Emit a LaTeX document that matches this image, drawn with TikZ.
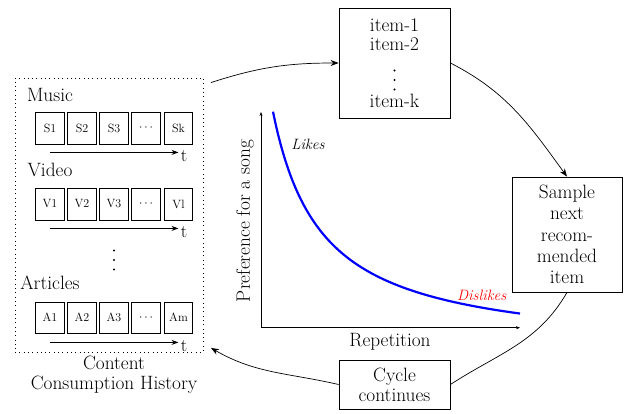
\documentclass[tikz,border=0pt]{standalone}
\usetikzlibrary{arrows.meta}
\begin{document}
\begin{tikzpicture}[x=1pt,y=-1pt,
  lbl/.style={font=\fontsize{19.3}{20}\selectfont},
  cell/.style={draw, line width=0.8pt, minimum width=28.5pt, minimum height=32pt, inner sep=0pt, font=\fontsize{12}{14}\selectfont},
  tarrow/.style={-{Stealth[length=7pt,width=5pt]}, line width=0.8pt},
  tlabel/.style={anchor=west, inner sep=2pt, yshift=-3.5pt, font=\fontsize{18}{18}\selectfont},
  flowbox/.style={draw, line width=0.8pt, align=center, inner sep=0pt, font=\fontsize{19.3}{19}\selectfont},
  conn/.style={line width=0.7pt},
  connarrow/.style={line width=0.7pt, -{Stealth[length=8pt,width=6pt]}},
  axis/.style={line width=0.5pt, -{Stealth[length=4pt,width=3pt]}},
  curvelbl/.style={font=\itshape\fontsize{15}{17}\selectfont},
  dotmark/.style={circle, fill, inner sep=0pt, minimum size=2.2pt}
]
\useasboundingbox (0,0) rectangle (626,413);

% history panel
\node[draw, dash pattern=on 0.8pt off 3.5pt, line width=0.8pt, minimum width=188pt, minimum height=274pt, inner sep=0pt] (hist) at (109,215) {};

\node[lbl] (music) at (50,95) {Music};
\foreach \i/\x/\t in {1/50/S1, 2/82/S2, 3/114/S3, 4/146/{$\cdots$}, 5/178.5/Sk}
  \node[cell] (s\i) at (\x,128) {\t};
\draw[tarrow] ([yshift=-8pt]s1.south) -- ([yshift=-8pt]s5.south) node[tlabel] (ts) {t};

\node[lbl] (video) at (50,170) {Video};
\foreach \i/\x/\t in {1/50/V1, 2/82/V2, 3/114/V3, 4/146/{$\cdots$}, 5/178.5/Vl}
  \node[cell] (v\i) at (\x,204) {\t};
\draw[tarrow] ([yshift=-8pt]v1.south) -- ([yshift=-8pt]v5.south) node[tlabel] (tv) {t};

\foreach \k/\y in {1/250.5, 2/260, 3/269.5}
  \node[dotmark] (hd\k) at (114,\y) {};

\node[lbl] (articles) at (50,283) {Articles};
\foreach \i/\x/\t in {1/50/A1, 2/82/A2, 3/114/A3, 4/146/{$\cdots$}, 5/178.5/Am}
  \node[cell, minimum height=31pt] (a\i) at (\x,317.5) {\t};
\draw[tarrow] ([yshift=-9pt]a1.south) -- ([yshift=-9pt]a5.south) node[tlabel] (ta) {t};

\node[lbl, align=center] (histlabel) at (114,375) {Content\\Consumption History};

% cycle boxes
\node[flowbox, minimum width=111pt, minimum height=110pt] (items) at (394.5,63) {item-1\\item-2\\[38pt]item-k};
\foreach \k/\y in {1/70.5, 2/80, 3/89.5}
  \node[dotmark] (id\k) at (394.5,\y) {};
\node[flowbox, minimum width=110pt, minimum height=115pt, font=\fontsize{19.3}{21.25}\selectfont] (sample) at (567,234.5) {Sample\\next\\recom-\\mended\\item};
\node[flowbox, minimum width=111pt, minimum height=49pt, font=\fontsize{19.3}{20}\selectfont] (cycle) at (394.5,384.5) {Cycle\\continues};

% connectors
\draw[connarrow] ([xshift=7.5pt,yshift=-5pt]hist.north east) to[out=18,in=180] (items.west);
\draw[connarrow] (items.east) to[out=-27,in=126] (sample.north);
\draw[conn] (sample.south) to[out=240,in=33] (cycle.east);
\draw[connarrow] (cycle.west) to[out=167,in=-30] ([xshift=7.5pt,yshift=4.5pt]hist.south east);

% graph
\coordinate (origin) at (261,327.7);
\draw[axis] (origin) -- (261,112);
\draw[axis] (origin) -- (520,327.7);
\draw[blue, line width=2.2pt] plot[domain=273:520, samples=90, smooth] (\x, {353.5 - 11825/(\x-224.1)});
\node[curvelbl] (likes) at (308,144) {Likes};
\node[curvelbl, text=red] (dislikes) at (481.7,295) {Dislikes};
\node[lbl, rotate=90] (ylab) at (245,221) {Preference for a song};
\node[lbl] (xlab) at (390,342) {Repetition};
\end{tikzpicture}
\end{document}
